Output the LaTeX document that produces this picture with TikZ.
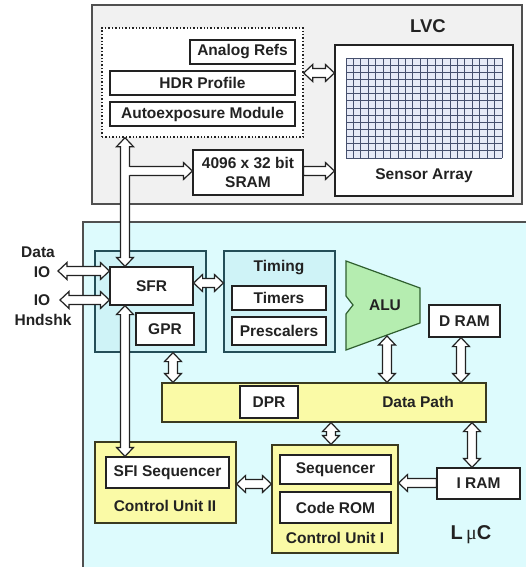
\documentclass[tikz,border=0pt]{standalone}
\usepackage{fontspec}
\setmainfont{Liberation Sans}
\newfontfamily\serifmu{Liberation Serif}
\usetikzlibrary{calc}
\definecolor{lvcfill}{HTML}{F1F1F1}
\definecolor{lvcdraw}{HTML}{505050}
\definecolor{lmcfill}{HTML}{DDFBFD}
\definecolor{subfill}{HTML}{CFF3F7}
\definecolor{subdraw}{HTML}{244E58}
\definecolor{alufill}{HTML}{B5EDB0}
\definecolor{aludraw}{HTML}{2F5F2F}
\definecolor{yel}{HTML}{FAFAA6}
\definecolor{yeldraw}{HTML}{3A3A20}
\definecolor{gridfill}{HTML}{E6EAF7}
\definecolor{gridline}{HTML}{46506E}
\definecolor{ink}{HTML}{222222}
\tikzset{
  txt/.style={font=\fontsize{15.5}{17}\selectfont\bfseries, text=ink},
  box/.style={draw=ink, line width=1.2pt, fill=white, inner sep=0pt, txt},
  lvcbox/.style={draw=lvcdraw, line width=1.2pt, fill=lvcfill, inner sep=0pt},
  lmcbox/.style={draw=lvcdraw, line width=1.2pt, fill=lmcfill, inner sep=0pt},
  subbox/.style={draw=subdraw, line width=1.2pt, fill=subfill, inner sep=0pt},
  yelbox/.style={draw=yeldraw, line width=1.2pt, fill=yel, inner sep=0pt},
  dotbox/.style={draw=ink, line width=1.4pt, dotted, fill=white, inner sep=0pt},
  hol/.style={draw=ink, fill=white, line width=1.2pt, line join=miter},
}
% box from (x1,y1) to (x2,y2), pixel coordinates
\newcommand\bx[7]{\node[#1, minimum width={#5-#3}, minimum height={#6-#4}] (#2) at ({(#3+#5)/2},{(#4+#6)/2}) {#7};}
\newcommand\hdarr[2]{\path[hol] let \p1=#1, \p2=#2 in (\x1,\y1) -- (\x1+9pt,\y1+8.5pt) -- (\x1+9pt,\y1+4.5pt) -- (\x2-9pt,\y1+4.5pt) -- (\x2-9pt,\y1+8.5pt) -- (\x2,\y1) -- (\x2-9pt,\y1-8.5pt) -- (\x2-9pt,\y1-4.5pt) -- (\x1+9pt,\y1-4.5pt) -- (\x1+9pt,\y1-8.5pt) -- cycle;}
\newcommand\vdarr[2]{\path[hol] let \p1=#1, \p2=#2 in (\x1,\y1) -- (\x1+8.5pt,\y1-9pt) -- (\x1+4.5pt,\y1-9pt) -- (\x1+4.5pt,\y2+9pt) -- (\x1+8.5pt,\y2+9pt) -- (\x1,\y2) -- (\x1-8.5pt,\y2+9pt) -- (\x1-4.5pt,\y2+9pt) -- (\x1-4.5pt,\y1-9pt) -- (\x1-8.5pt,\y1-9pt) -- cycle;}
\newcommand\hsarr[2]{\path[hol] let \p1=#1, \p2=#2 in (\x1,\y1+4.5pt) -- (\x2-9pt,\y1+4.5pt) -- (\x2-9pt,\y1+8.5pt) -- (\x2,\y1) -- (\x2-9pt,\y1-8.5pt) -- (\x2-9pt,\y1-4.5pt) -- (\x1,\y1-4.5pt) -- cycle;}
\newcommand\hsarrl[2]{\path[hol] let \p1=#1, \p2=#2 in (\x1,\y1+4.5pt) -- (\x2+9pt,\y1+4.5pt) -- (\x2+9pt,\y1+8.5pt) -- (\x2,\y1) -- (\x2+9pt,\y1-8.5pt) -- (\x2+9pt,\y1-4.5pt) -- (\x1,\y1-4.5pt) -- cycle;}
\begin{document}
\begin{tikzpicture}[x=1pt,y=-1pt]
\useasboundingbox (0,0) rectangle (526,567);
\fill[white] (0,0) rectangle (526,567);
% ---------- LVC ----------
\bx{lvcbox}{lvc}{92}{5}{522}{204}{}
\node[txt, font=\fontsize{18.5}{20}\selectfont\bfseries] (lvclab) at (428,26) {LVC};
\bx{dotbox}{dot}{102}{28}{303}{137}{}
\bx{box}{aref}{190}{40}{295}{64}{Analog Refs}
\bx{box}{hdr}{110}{71}{295}{95}{HDR Profile}
\bx{box}{aexp}{110}{102}{295}{126}{Autoexposure Module}
\bx{box}{sensor}{335}{45}{513}{196}{}
\fill[gridfill] (346,58) rectangle (502,158);
\foreach \i in {0,...,21} \draw[gridline, line width=0.8pt] (346+\i*7.4286,58) -- (346+\i*7.4286,158);
\foreach \j in {0,...,14} \draw[gridline, line width=0.8pt] (346,58+\j*7.1429) -- (502,58+\j*7.1429);
\node[txt] (sensorlab) at (424,176) {Sensor Array};
\bx{box, align=center, font=\fontsize{15.5}{19}\selectfont\bfseries}{sram}{193}{150}{303}{195}{4096 x 32 bit\\SRAM}
% ---------- LuC ----------
\bx{lmcbox}{lmc}{83}{222}{540}{590}{}
\node[txt, font=\fontsize{20}{22}\selectfont\bfseries] (lmclab) at (471,535) {L\,{\serifmu\mdseries μ}C};
\bx{subbox}{ctn}{95}{251}{206}{352}{}
\bx{box}{sfr}{110}{267}{193}{305}{SFR}
\bx{box}{gpr}{136}{313}{194}{345}{GPR}
\bx{subbox}{timing}{224}{251}{335}{352}{}
\node[txt] (timinglab) at (279,268) {Timing};
\bx{box}{timers}{232}{286}{326}{310}{Timers}
\bx{box}{presc}{232}{317}{326}{345}{Prescalers}
\draw[draw=aludraw, fill=alufill, line width=1.2pt, line join=miter] (346,261) -- (420,288) -- (420,323) -- (346,350) -- (346,314) -- (353,305) -- (346,296) -- cycle;
\node[txt] (alu) at (385,305) {ALU};
\bx{box}{dram}{429}{305}{500}{337}{D RAM}
\bx{yelbox}{dp}{162}{383}{486}{422}{}
\bx{box}{dpr}{240}{386}{298}{418}{DPR}
\node[txt] (dplab) at (418,402) {Data Path};
\bx{yelbox}{cu2}{95}{442}{236}{523}{}
\bx{box}{sfiseq}{106}{457}{229}{488}{SFI Sequencer}
\node[txt] (cu2lab) at (165,506) {Control Unit II};
\bx{yelbox}{cu1}{272}{445}{398}{553}{}
\bx{box}{seq}{280}{455}{391}{484}{Sequencer}
\bx{box}{crom}{280}{492}{391}{523}{Code ROM}
\node[txt] (cu1lab) at (335,538) {Control Unit I};
\bx{box}{iram}{437}{468}{520}{499}{I RAM}
% ---------- left labels ----------
\node[txt] (data) at (38,252) {Data};
\node[txt] (io1) at (42,272) {IO};
\node[txt] (io2) at (42,300) {IO};
\node[txt] (hnd) at (43,320) {Hndshk};
% ---------- helper coordinates ----------
\coordinate (bus) at (125,0);
\coordinate (ya) at (0,73);
\coordinate (yb) at (0,171);
\coordinate (io1l) at (58,271);
\coordinate (io2l) at (60,300);
\coordinate (ytm) at (0,283);
\coordinate (xgp) at (173,0);
\coordinate (alub) at (387,336);
\coordinate (xdr) at (461,0);
\coordinate (xcu1) at (331,0);
\coordinate (xir) at (472,0);
\coordinate (ycu) at (0,484);
\coordinate (yir) at (0,483);
\coordinate (brs) at (129.5,171);
% ---------- connectors ----------
\hdarr{(dot.east |- ya)}{(sensor.west |- ya)}
\vdarr{(dot.south -| bus)}{(sfr.north -| bus)}
\fill[white] (128,167) rectangle (131.5,175);
\path[hol] let \p1=(brs), \p2=(sram.west |- yb) in (\x1,\y1+4.5pt) -- (\x2-9pt,\y1+4.5pt) -- (\x2-9pt,\y1+8.5pt) -- (\x2,\y1) -- (\x2-9pt,\y1-8.5pt) -- (\x2-9pt,\y1-4.5pt) -- (\x1,\y1-4.5pt);
\hsarr{(sram.east |- yb)}{(sensor.west |- yb)}
\hdarr{(io1l)}{(sfr.west |- io1l)}
\hdarr{(io2l)}{(sfr.west |- io2l)}
\hdarr{(sfr.east |- ytm)}{(timing.west |- ytm)}
\vdarr{(sfr.south -| bus)}{(sfiseq.north -| bus)}
\vdarr{(ctn.south -| xgp)}{(dp.north -| xgp)}
\vdarr{(alub)}{(dp.north -| alub)}
\vdarr{(dram.south -| xdr)}{(dp.north -| xdr)}
\vdarr{(dp.south -| xcu1)}{(cu1.north -| xcu1)}
\vdarr{(dp.south -| xir)}{(iram.north -| xir)}
\hdarr{(cu2.east |- ycu)}{(cu1.west |- ycu)}
\hsarrl{(iram.west |- yir)}{(cu1.east |- yir)}
\end{tikzpicture}
\end{document}
